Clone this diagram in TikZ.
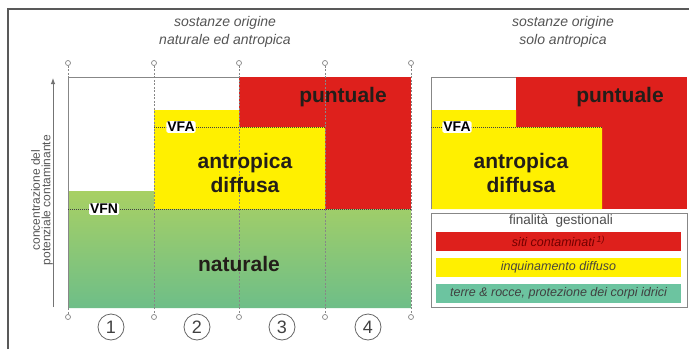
\documentclass[tikz,border=0pt]{standalone}
\usepackage{fontspec}
\setmainfont{Liberation Sans}
\usetikzlibrary{arrows.meta}
\definecolor{cred}{RGB}{222,32,28}
\definecolor{cyel}{RGB}{255,240,0}
\definecolor{gtop}{RGB}{168,208,100}
\definecolor{gbot}{RGB}{110,190,136}
\definecolor{cteal}{RGB}{108,196,160}
\definecolor{cgrid}{RGB}{135,135,135}
\definecolor{ctxt}{RGB}{85,85,85}
\definecolor{cdark}{RGB}{35,30,25}
\begin{document}
\begin{tikzpicture}[x=1pt,y=-1pt,
  big/.style={font=\fontsize{21}{24}\selectfont\bfseries, text=cdark, align=center, inner sep=0pt},
  tag/.style={font=\fontsize{14}{14}\selectfont\bfseries, text=black, fill=white, inner sep=1pt, rounded corners=1.5pt},
  head/.style={font=\fontsize{14}{18}\selectfont\itshape, text=ctxt, align=center, inner sep=0pt},
  tick/.style={circle, draw=cgrid, fill=white, line width=0.7pt, inner sep=0pt, minimum size=5pt},
  grid/.style={draw=cgrid, line width=0.6pt, dash pattern=on 2pt off 1.5pt},
  levl/.style={draw=black!75, line width=0.9pt, dash pattern=on 1pt off 1pt},
  circnum/.style={circle, draw=black!60, line width=0.8pt, minimum size=26pt, inner sep=0pt, font=\fontsize{18}{18}\selectfont, text=black!75},
  bar/.style={minimum width=245pt, minimum height=19.5pt, inner sep=0pt, font=\fontsize{12.5}{13}\selectfont\itshape}
]
\useasboundingbox (0,0) rectangle (689,349);
\fill[white] (0,0) rectangle (689,349);
% outer frame
\draw[black!65, line width=1.3pt] (8,349) -- (8,9) -- (689,9);

% titles
\node[head] (h1) at (225,32) {sostanze origine\\naturale ed antropica};
\node[head] (h2) at (563,32) {sostanze origine\\solo antropica};

% ---------- left chart fills
\shade[top color=gtop, bottom color=gbot] (68,191) -- (154,191) -- (154,209) -- (411,209) -- (411,308) -- (68,308) -- cycle;
\fill[cred] (239,77) rectangle (411,209);
\fill[cyel] (154,110) -- (239,110) -- (239,127) -- (325,127) -- (325,209) -- (154,209) -- cycle;
\draw[cgrid, line width=0.7pt] (68,308) -- (68,77) -- (239,77);

% ticks and grid lines
\foreach \i/\x in {1/68,2/154,3/239,4/325,5/411}{
  \node[tick] (t\i) at (\x,63) {};
  \node[tick] (b\i) at (\x,317) {};
}
\foreach \i in {2,3,4,5}{ \draw[grid] (t\i) -- (b\i); }
\coordinate (c1t) at (68,77);
\coordinate (c1b) at (68,308);
\draw[grid] (t1) -- (c1t);
\draw[grid] (c1b) -- (b1);

% level lines
\coordinate (vfa1) at (154,127);
\coordinate (vfa2) at (325,127);
\coordinate (vfn1) at (68,209);
\coordinate (vfn2) at (411,209);
\draw[levl] (vfa1) -- (vfa2);
\draw[levl] (vfn1) -- (vfn2);
\node[tag] (vfa) at (181,127) {VFA};
\node[tag] (vfn) at (104,209) {VFN};

% region labels
\node[big] (punt) at (343,97) {puntuale};
\node[big] (antr) at (245,173) {antropica\\diffusa};
\node[big] (nat) at (239,264) {naturale};

% y axis
\coordinate (ya) at (53,307);
\coordinate (yb) at (53,78);
\draw[black!55, line width=0.9pt, -{Latex[length=6pt,width=4.5pt]}] (ya) -- (yb);
\node[rotate=90, align=center, font=\fontsize{12}{10.5}\selectfont, text=ctxt, inner sep=0pt] (ylab) at (42,200) {concentrazione del\\potenziale contaminante};

% circled numbers
\node[circnum] (n1) at (111,327) {1};
\node[circnum] (n2) at (197,327) {2};
\node[circnum] (n3) at (282,327) {3};
\node[circnum] (n4) at (368,327) {4};

% ---------- right chart
\fill[cred] (516,77) rectangle (687,209);
\fill[cyel] (431,110) -- (516,110) -- (516,127) -- (602,127) -- (602,209) -- (431,209) -- cycle;
\draw[cgrid, line width=0.7pt] (431,209) -- (431,77) -- (516,77);
\coordinate (rvfa1) at (431,127);
\coordinate (rvfa2) at (602,127);
\draw[levl] (rvfa1) -- (rvfa2);
\node[tag] (rvfa) at (457,127) {VFA};
\node[big] (rpunt) at (620,97) {puntuale};
\node[big] (rantr) at (521,173) {antropica\\diffusa};

% legend
\node[draw=cgrid, line width=0.8pt, minimum width=256pt, minimum height=94pt, inner sep=0pt] (leg) at (559,260) {};
\node[font=\fontsize{13.5}{13.5}\selectfont, text=black!70, inner sep=0pt] (legt) at (561,221) {finalità\ \ gestionali};
\node[bar, fill=cred, text=red!45!black] (l1) at (558.5,241.5) {siti contaminati\,\textsuperscript{1)}};
\node[bar, fill=cyel, text=black!70!yellow!60!black] (l2) at (558.5,267.5) {inquinamento diffuso};
\node[bar, fill=cteal, text=black!75] (l3) at (558.5,293.5) {terre \& rocce, protezione dei corpi idrici};
\end{tikzpicture}
\end{document}
